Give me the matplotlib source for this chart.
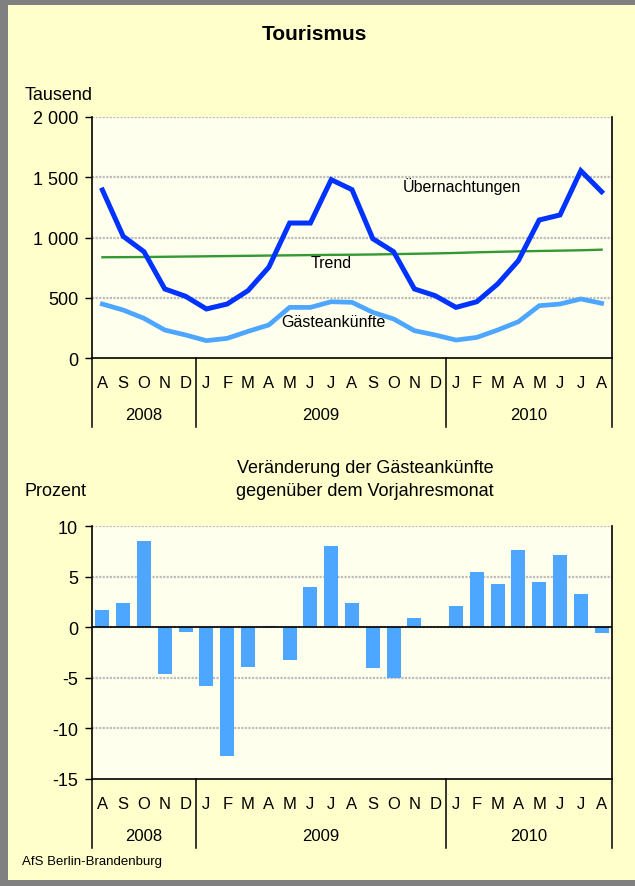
import matplotlib.pyplot as plt
from matplotlib.patches import Rectangle
import matplotlib.transforms as mtransforms

plt.rcParams["font.family"] = ["Liberation Sans", "DejaVu Sans"]

# Monthly data, August 2008 to August 2010
months = ["A", "S", "O", "N", "D",
          "J", "F", "M", "A", "M", "J", "J", "A", "S", "O", "N", "D",
          "J", "F", "M", "A", "M", "J", "J", "A"]
years = ["2008", "2009", "2010"]
year_months = [5, 12, 8]  # number of months shown per year

uebernachtungen = [1394, 1010, 882, 573, 512, 407, 448, 559, 753, 1120, 1120, 1480, 1397,
                   990, 882, 573, 517, 420, 467, 614, 808, 1145, 1187, 1554, 1380]
gaesteankuenfte = [448, 398, 329, 232, 191, 144, 163, 221, 274, 420, 420, 467, 462,
                   379, 324, 227, 191, 149, 171, 232, 301, 434, 448, 490, 454]
trend = [836, 837, 838, 840, 842, 844, 846, 848, 850, 852, 854, 856, 857,
         859, 862, 865, 868, 872, 877, 881, 885, 888, 891, 894, 899]

veraenderung = [1.7, 2.4, 8.5, -4.6, -0.5, -5.8, -12.7, -3.9, 0.1, -3.2, 4.0, 8.0, 2.4,
                -4.0, -5.0, 0.9, 0.0, 2.1, 5.5, 4.3, 7.6, 4.5, 7.1, 3.3, -0.6]

BG = "#FFFFCC"
PLOT_BG = "#FFFFEE"
DARK_BLUE = "#0033FF"
LIGHT_BLUE = "#4DA6FF"
GREEN = "#339933"
GRID = "#BDBDBD"

W, H = 635, 887
fig = plt.figure(figsize=(W / 100, H / 100), dpi=100, facecolor=BG)

# grey frame (top, left, bottom)
for (x0, y0, w, h) in [(0, H - 6, W, 6), (0, 0, 8, H), (0, 0, W, 6)]:
    fig.patches.append(Rectangle((x0 / W, y0 / H), w / W, h / H, transform=fig.transFigure,
                                 facecolor="#808080", edgecolor="none", zorder=0))


def px_axes(left, top, right, bottom):
    return fig.add_axes([left / W, 1 - bottom / H, (right - left) / W, (bottom - top) / H])


def style_axes(ax, ymin, ymax, step, labels):
    ax.set_facecolor(PLOT_BG)
    ax.set_xlim(-0.5, len(months) - 0.5)
    ax.set_ylim(ymin, ymax)
    ticks = list(range(ymin, ymax + 1, step))
    ax.set_yticks(ticks)
    ax.set_yticklabels(labels, fontsize=13)
    ax.set_xticks([])
    ax.tick_params(axis="y", length=5, width=1, color="black", pad=5)
    for t in ticks[1:]:
        ax.axhline(t, color=GRID, lw=1.6, ls=(0, (1, 0.6)), zorder=1)
    ax.spines["top"].set_visible(False)
    for s in ["left", "right", "bottom"]:
        ax.spines[s].set_color("black")
        ax.spines[s].set_linewidth(1.2)

    # category axis: months and years below plot
    h_px = ax.get_position().height * H
    trans = mtransforms.blended_transform_factory(ax.transData, ax.transAxes)
    for i, m in enumerate(months):
        ax.text(i, -25 / h_px, m, transform=trans, ha="center", va="center", fontsize=12)
    bounds = [-0.5]
    for n in year_months:
        bounds.append(bounds[-1] + n)
    for b in bounds:
        ax.plot([b, b], [0, -69 / h_px], transform=trans, color="black", lw=1.1, clip_on=False)
    for y, a, b in zip(years, bounds[:-1], bounds[1:]):
        ax.text((a + b) / 2, -57 / h_px, y, transform=trans, ha="center", va="center", fontsize=12)


x = list(range(len(months)))

# --- top chart ---
ax1 = px_axes(92, 118, 612, 359)
style_axes(ax1, 0, 2000, 500, ["0", "500", "1 000", "1 500", "2 000"])
ax1.plot(x, trend, color=GREEN, lw=1.7, zorder=3)
ax1.plot(x, gaesteankuenfte, color=LIGHT_BLUE, lw=3.4, zorder=4, solid_joinstyle="miter")
ax1.plot(x, uebernachtungen, color=DARK_BLUE, lw=3.6, zorder=5, solid_joinstyle="miter")
ax1.text(14.45, 1430, "Übernachtungen", fontsize=11.5, va="center", ha="left", zorder=6)
ax1.text(10.0, 790, "Trend", fontsize=11.5, va="center", ha="left", zorder=6)
ax1.text(8.6, 300, "Gästeankünfte", fontsize=11.5, va="center", ha="left", zorder=6)

fig.text(314 / W, 1 - 34 / H, "Tourismus", fontsize=15, fontweight="bold", ha="center", va="center")
fig.text(25 / W, 1 - 96 / H, "Tausend", fontsize=13, ha="left", va="center")

# --- bottom chart ---
ax2 = px_axes(92, 527, 612, 780)
style_axes(ax2, -15, 10, 5, ["-15", "-10", "-5", "0", "5", "10"])
ax2.bar(x, veraenderung, width=0.68, color=LIGHT_BLUE, zorder=3)
ax2.axhline(0, color="black", lw=1.2, zorder=4)

fig.text(365 / W, 1 - 480 / H, "Veränderung der Gästeankünfte\ngegenüber dem Vorjahresmonat",
         fontsize=13, ha="center", va="center", linespacing=1.45)
fig.text(25 / W, 1 - 492 / H, "Prozent", fontsize=13, ha="left", va="center")

fig.text(22 / W, 1 - 862 / H, "AfS Berlin-Brandenburg", fontsize=9.5, ha="left", va="center")

fig.savefig("out.png", dpi=100, facecolor=BG)
